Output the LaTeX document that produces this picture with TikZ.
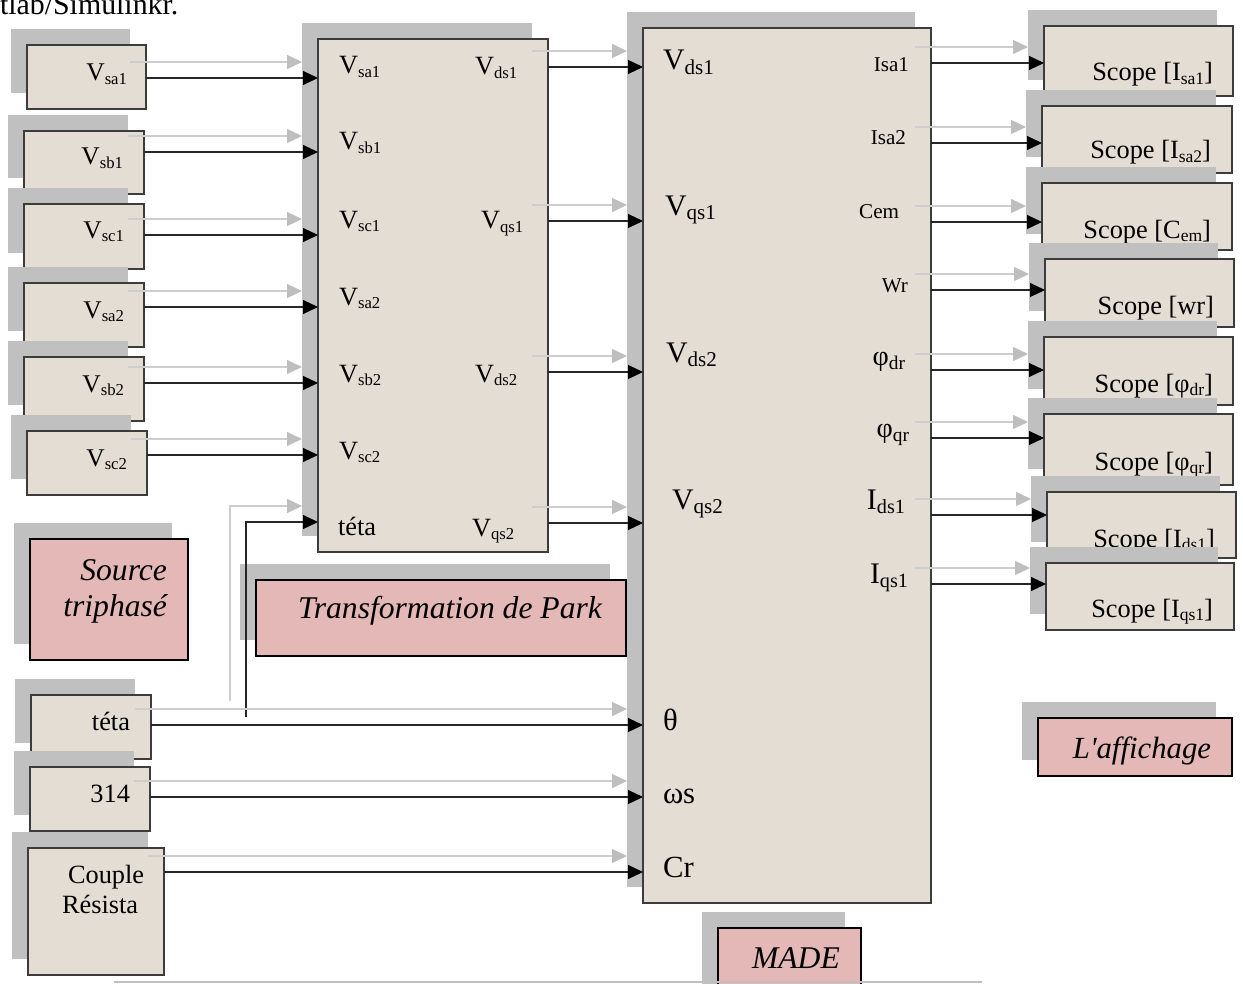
\documentclass[tikz,border=0pt]{standalone}
\usepackage{fontspec}
\setmainfont{Liberation Serif}
\usetikzlibrary{arrows.meta,shadows,calc}
\definecolor{beige}{RGB}{228,221,211}
\definecolor{pinkc}{RGB}{229,184,184}
\definecolor{shgray}{RGB}{192,192,192}
\definecolor{ghostline}{RGB}{205,205,205}
\definecolor{ghosthead}{RGB}{190,190,190}
\definecolor{edgegray}{RGB}{60,60,60}
\newcommand\fs[1]{\fontsize{#1}{#1}\selectfont}
\newcommand\lo[2]{\raisebox{-0.15em}{\fs{#1}#2}}
\newcommand\mkbox[6]{\node[#1,anchor=north west,minimum width={(#5-#3)*0.02cm},minimum height={(#6-#4)*0.02cm}] (#2) at (#3,#4) {};}
\newcommand\wires[2]{\draw[ghost] ($(#1)+(-16,-16)$) -- ($(#2)+(-16,-16)$); \draw[wire] (#1) -- (#2);}
\begin{document}
\begin{tikzpicture}[x=0.02cm,y=-0.02cm,
  blk/.style={draw=edgegray,line width=0.8pt,fill=beige,inner sep=0pt,outer sep=0pt,
    drop shadow={shadow xshift=-0.32cm,shadow yshift=0.32cm,opacity=1,fill=shgray}},
  tagbox/.style={draw=black,line width=1.3pt,fill=pinkc,inner sep=0pt,outer sep=0pt,
    drop shadow={shadow xshift=-0.32cm,shadow yshift=0.32cm,opacity=1,fill=shgray}},
  lbl/.style={inner sep=0pt,outer sep=0pt,text=black},
  tagtxt/.style={lbl,font={\fs{18}\itshape}},
  wire/.style={draw=black!85,line width=0.6pt,-{Triangle[length=0.3cm,width=0.28cm,color=black]}},
  ghost/.style={draw=ghostline,line width=0.6pt,-{Triangle[length=0.3cm,width=0.28cm,color=ghosthead]}}]
\useasboundingbox (0,0) rectangle (1243,983);
\clip (0,0) rectangle (1243,983);
\fill[white] (0,0) rectangle (1243,983);

\node[lbl,anchor=base west,font={\fs{17}}] (title) at (0,15) {tlab/Simulinkr.};

% source blocks
\mkbox{blk}{sa1}{27}{45}{146}{109}
\node[lbl,anchor=base east] (sa1t) at (127,81) {\fs{14.5}V\lo{9.5}{sa1}};
\mkbox{blk}{sb1}{24}{131}{144}{194}
\node[lbl,anchor=base east] (sb1t) at (123,165) {\fs{14.5}V\lo{9.5}{sb1}};
\mkbox{blk}{sc1}{24}{204}{144}{269}
\node[lbl,anchor=base east] (sc1t) at (124,238) {\fs{14.5}V\lo{9.5}{sc1}};
\mkbox{blk}{sa2}{24}{283}{144}{347}
\node[lbl,anchor=base east] (sa2t) at (124,318) {\fs{14.5}V\lo{9.5}{sa2}};
\mkbox{blk}{sb2}{24}{357}{144}{421}
\node[lbl,anchor=base east] (sb2t) at (124,392) {\fs{14.5}V\lo{9.5}{sb2}};
\mkbox{blk}{sc2}{27}{431}{147}{495}
\node[lbl,anchor=base east] (sc2t) at (127,466) {\fs{14.5}V\lo{9.5}{sc2}};

% Park block
\mkbox{blk}{park}{318}{39}{548}{552}
\node[lbl,anchor=base west] (pl1) at (339,74) {\fs{15}V\lo{9.5}{sa1}};
\node[lbl,anchor=base west] (pl2) at (339,150) {\fs{15}V\lo{9.5}{sb1}};
\node[lbl,anchor=base west] (pl3) at (339,228) {\fs{15}V\lo{9.5}{sc1}};
\node[lbl,anchor=base west] (pl4) at (339,305) {\fs{15}V\lo{9.5}{sa2}};
\node[lbl,anchor=base west] (pl5) at (339,382) {\fs{15}V\lo{9.5}{sb2}};
\node[lbl,anchor=base west] (pl6) at (339,459) {\fs{15}V\lo{9.5}{sc2}};
\node[lbl,anchor=base west] (pl7) at (338,535) {\fs{15}téta};
\node[lbl,anchor=base west] (pr1) at (475,75) {\fs{15}V\lo{9.5}{ds1}};
\node[lbl,anchor=base west] (pr2) at (481,229) {\fs{15}V\lo{9.5}{qs1}};
\node[lbl,anchor=base west] (pr3) at (475,382) {\fs{15}V\lo{9.5}{ds2}};
\node[lbl,anchor=base west] (pr4) at (472,536) {\fs{15}V\lo{9.5}{qs2}};

% MADE block
\mkbox{blk}{made}{643}{28}{931}{903}
\node[lbl,anchor=base west] (ml1) at (663,70) {\fs{17}V\lo{12}{ds1}};
\node[lbl,anchor=base west] (ml2) at (665,215) {\fs{17}V\lo{12}{qs1}};
\node[lbl,anchor=base west] (ml3) at (666,362) {\fs{17}V\lo{12}{ds2}};
\node[lbl,anchor=base west] (ml4) at (672,509) {\fs{17}V\lo{12}{qs2}};
\node[lbl,anchor=base west] (ml5) at (663,730) {\fs{17.5}θ};
\node[lbl,anchor=base west] (ml6) at (663,803) {\fs{17.5}ωs};
\node[lbl,anchor=base west] (ml7) at (663,877) {\fs{17.5}Cr};
\node[lbl,anchor=base east] (mr1) at (909,72) {\fs{12}Isa1};
\node[lbl,anchor=base east] (mr2) at (906,145) {\fs{12}Isa2};
\node[lbl,anchor=base east] (mr3) at (899,218) {\fs{12}Cem};
\node[lbl,anchor=base east] (mr4) at (908,292) {\fs{12}Wr};
\node[lbl,anchor=base east] (mr5) at (905,365) {\fs{16}φ\lo{11}{dr}};
\node[lbl,anchor=base east] (mr6) at (909,437) {\fs{16}φ\lo{11}{qr}};
\node[lbl,anchor=base east] (mr7) at (905,509) {\fs{17}I\lo{11.5}{ds1}};
\node[lbl,anchor=base east] (mr8) at (908,583) {\fs{17}I\lo{11.5}{qs1}};

% scopes
\mkbox{blk}{o1}{1044}{26}{1233}{96}
\node[lbl,anchor=base east] (o1t) at (1213,81) {\fs{15}Scope [I\lo{10}{sa1}]};
\mkbox{blk}{o2}{1042}{106}{1232}{173}
\node[lbl,anchor=base east] (o2t) at (1211,159) {\fs{15}Scope [I\lo{10}{sa2}]};
\mkbox{blk}{o3}{1042}{183}{1232}{250}
\node[lbl,anchor=base east] (o3t) at (1211,238) {\fs{15}Scope [C\lo{10}{em}]};
\mkbox{blk}{o4}{1045}{259}{1234}{327}
\node[lbl,anchor=base east] (o4t) at (1214,314) {\fs{15}Scope [wr]};
\mkbox{blk}{o5}{1044}{337}{1233}{405}
\node[lbl,anchor=base east] (o5t) at (1213,392) {\fs{15}Scope [φ\lo{10}{dr}]};
\mkbox{blk}{o6}{1044}{414}{1233}{485}
\node[lbl,anchor=base east] (o6t) at (1213,470) {\fs{15}Scope [φ\lo{10}{qr}]};
\mkbox{blk}{o7}{1047}{492}{1236}{558}
\node[lbl,anchor=base east] (o7t) at (1215,547) {\fs{15}Scope [I\lo{10}{ds1}]};
\mkbox{blk}{o8}{1046}{563}{1234}{630}
\node[lbl,anchor=base east] (o8t) at (1213,617) {\fs{15}Scope [I\lo{10}{qs1}]};

% bottom sources
\mkbox{blk}{st}{31}{695}{151}{759}
\node[lbl,anchor=base east] (stt) at (130,730) {\fs{15}téta};
\mkbox{blk}{s314}{30}{767}{150}{831}
\node[lbl,anchor=base east] (s314t) at (130,802) {\fs{15}314};
\mkbox{blk}{scr}{28}{848}{164}{975}
\node[lbl,anchor=base west] (scrt1) at (68,883) {\fs{15}Couple};
\node[lbl,anchor=base west] (scrt2) at (62,913) {\fs{15}Résista};

% title tags
\mkbox{tagbox}{tsrc}{30}{539}{188}{660}
\node[tagtxt,anchor=base east] (tsrc1) at (167,580) {Source};
\node[tagtxt,anchor=base east] (tsrc2) at (167,616) {triphasé};
\mkbox{tagbox}{tpark}{256}{580}{626}{656}
\node[tagtxt,anchor=base west] (tparkt) at (298,618) {Transformation de Park};
\mkbox{tagbox}{tmade}{718}{928}{861}{1010}
\node[tagtxt,anchor=base west] (tmadet) at (752,968) {MADE};
\mkbox{tagbox}{taff}{1038}{718}{1232}{776}
\node[tagtxt,anchor=base east,font={\fs{17.5}\itshape}] (tafft) at (1211,758) {L\textquotesingle affichage};

% ports
\coordinate (pi1) at (318,78);
\coordinate (pi2) at (318,152);
\coordinate (pi3) at (318,235);
\coordinate (pi4) at (318,307);
\coordinate (pi5) at (318,383);
\coordinate (pi6) at (318,455);
\coordinate (pi7) at (318,522);
\coordinate (mi1) at (643,67);
\coordinate (mi2) at (643,221);
\coordinate (mi3) at (643,372);
\coordinate (mi4) at (643,523);
\coordinate (mi5) at (643,725);
\coordinate (mi6) at (643,797);
\coordinate (mi7) at (643,872);
\coordinate (mo1) at (931,63);
\coordinate (mo2) at (931,143);
\coordinate (mo3) at (931,222);
\coordinate (mo4) at (931,290);
\coordinate (mo5) at (931,370);
\coordinate (mo6) at (931,438);
\coordinate (mo7) at (931,515);
\coordinate (mo8) at (931,584);
\coordinate (tbr) at (246,717);

% connectors
\wires{sa1.east |- pi1}{pi1}
\wires{sb1.east |- pi2}{pi2}
\wires{sc1.east |- pi3}{pi3}
\wires{sa2.east |- pi4}{pi4}
\wires{sb2.east |- pi5}{pi5}
\wires{sc2.east |- pi6}{pi6}
\draw[ghost] ($(tbr)+(-16,-16)$) |- ($(pi7)+(-16,-16)$);
\draw[wire] (tbr) |- (pi7);
\wires{park.east |- mi1}{mi1}
\wires{park.east |- mi2}{mi2}
\wires{park.east |- mi3}{mi3}
\wires{park.east |- mi4}{mi4}
\wires{st.east |- mi5}{mi5}
\wires{s314.east |- mi6}{mi6}
\wires{scr.east |- mi7}{mi7}
\wires{mo1}{o1.west |- mo1}
\wires{mo2}{o2.west |- mo2}
\wires{mo3}{o3.west |- mo3}
\wires{mo4}{o4.west |- mo4}
\wires{mo5}{o5.west |- mo5}
\wires{mo6}{o6.west |- mo6}
\wires{mo7}{o7.west |- mo7}
\wires{mo8}{o8.west |- mo8}

\draw[draw=shgray,line width=0.8pt] (114,982) -- (982,982);
\end{tikzpicture}
\end{document}
